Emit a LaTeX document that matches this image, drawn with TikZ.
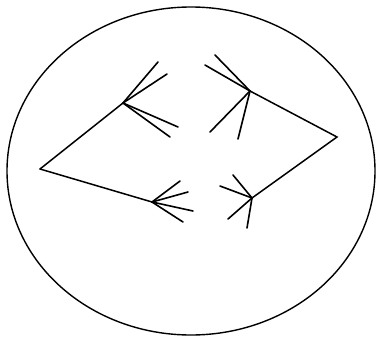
\documentclass[tikz,border=0pt]{standalone}
\begin{document}
\begin{tikzpicture}[x=1pt,y=-1pt,line width=1.5pt,line cap=round,
  ray/.style={line width=1.6pt}]
\useasboundingbox (0,0) rectangle (377,337);
\draw[line width=1.4pt] (191,171) ellipse [x radius=184, y radius=164];
% corners
\coordinate (L) at (40,169);
\coordinate (A) at (123,103);
\coordinate (B) at (250,91);
\coordinate (R) at (337,137);
\coordinate (C) at (252,198);
\coordinate (D) at (152,202);
\draw (L) -- (A);
\draw (B) -- (R) -- (C);
\draw (L) -- (D);
% arrow A
\coordinate (a1) at (158,62);
\coordinate (a2) at (167,74);
\coordinate (a3) at (178,127);
\coordinate (a4) at (170,137);
\foreach \p in {a1,a2,a3,a4} \draw[ray] (A) -- (\p);
% arrow B
\coordinate (b1) at (215,55);
\coordinate (b2) at (205,65);
\coordinate (b3) at (210,132);
\coordinate (b4) at (238,139);
\foreach \p in {b1,b2,b3,b4} \draw[ray] (B) -- (\p);
% arrow D
\coordinate (d1) at (180,181);
\coordinate (d2) at (188,192);
\coordinate (d3) at (193,211);
\coordinate (d4) at (183,222);
\foreach \p in {d1,d2,d3,d4} \draw[ray] (D) -- (\p);
% arrow C
\coordinate (c1) at (220,186);
\coordinate (c2) at (233,175);
\coordinate (c3) at (228,219);
\coordinate (c4) at (247,228);
\foreach \p in {c1,c2,c3,c4} \draw[ray] (C) -- (\p);
\end{tikzpicture}
\end{document}
